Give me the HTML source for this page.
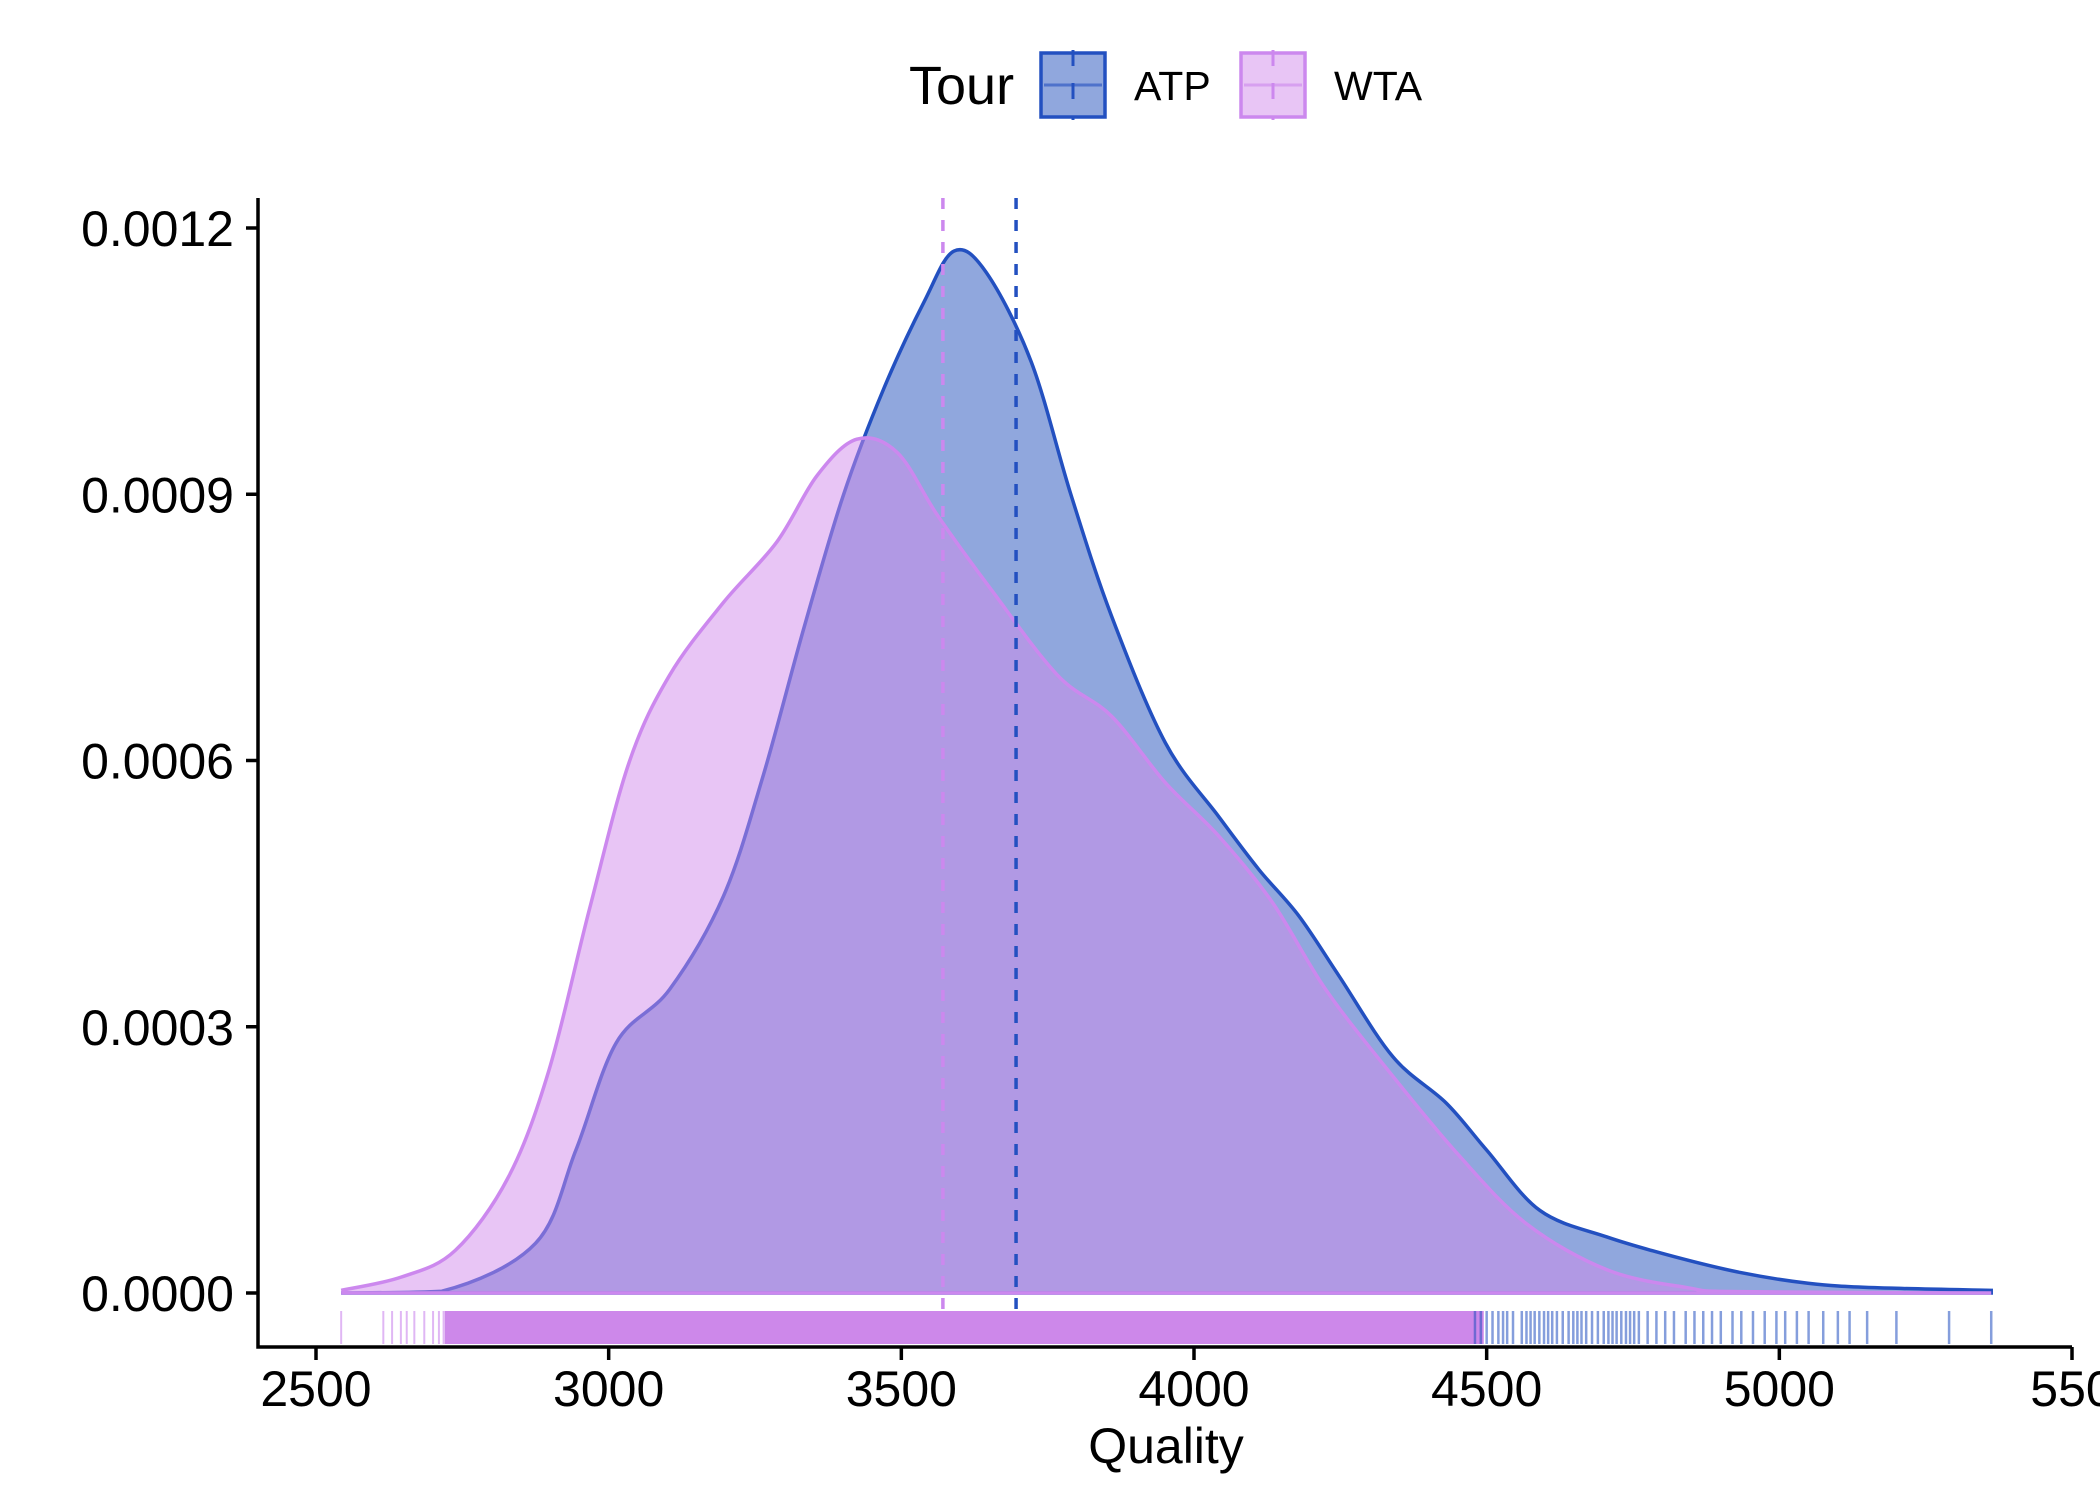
<!DOCTYPE html>
<html><head><meta charset="utf-8"><style>
html,body{margin:0;padding:0;background:#fff;}
svg{display:block;font-family:"Liberation Sans",Arial,sans-serif;}
</style></head><body>
<svg id="chart" width="2100" height="1500" viewBox="0 0 2100 1500"></svg>
<script>
const xTicks=[2500,3000,3500,4000,4500,5000,5500];
const xTickLabels=["2500","3000","3500","4000","4500","5000","550"];
const yTicks=[0,0.0003,0.0006,0.0009,0.0012];
const yTickLabels=["0.0000","0.0003","0.0006","0.0009","0.0012"];
const atpX=[2543,2715,2875,2944,3013,3104,3196,3264,3333,3401,3470,3539,3590,3645,3722,3790,3859,3951,4042,4111,4179,4248,4340,4431,4500,4591,4706,4820,4934,5049,5163,5362];
const atpY=[0,0.000002,0.000056,0.000161,0.000282,0.000342,0.000447,0.000583,0.000748,0.000899,0.001019,0.001117,0.001174,0.001150,0.001049,0.000899,0.000763,0.00062,0.000537,0.000477,0.000425,0.000357,0.000266,0.000214,0.000161,0.000093,0.000063,0.000041,0.000023,0.000011,0.000006,0.000003];
const wtaX=[2543,2646,2738,2829,2898,2967,3035,3104,3196,3287,3356,3424,3493,3562,3653,3767,3859,3951,4042,4134,4225,4340,4454,4568,4706,4843,4934,5362];
const wtaY=[0.000003,0.000018,0.000048,0.000131,0.000251,0.000432,0.000598,0.000696,0.000778,0.000846,0.000921,0.000962,0.000947,0.000876,0.000793,0.000696,0.00065,0.000575,0.000515,0.00044,0.000342,0.000244,0.000154,0.000078,0.000026,0.000006,0.0000015,0];
const atpMean=3696, wtaMean=3571;
const wtaRug=[2543,2615,2630,2645,2655,2668,2685,2700,2710,2718];
const wtaRugBand=[2720,4495];
const atpRug=[4480,4490,4500,4510,4520,4528,4535,4545,4560,4568,4575,4582,4590,4598,4605,4612,4620,4630,4640,4648,4655,4662,4670,4680,4690,4700,4708,4715,4722,4730,4738,4745,4752,4760,4775,4790,4805,4820,4840,4855,4870,4885,4900,4920,4935,4955,4975,4995,5010,5030,5050,5075,5100,5120,5150,5200,5290,5362];

const svg=document.getElementById('chart');
const NS='http://www.w3.org/2000/svg';
const X0=316,PX=(2072-316)/3000,Y0=1293,PY=(1293-228)/0.0012;
const sx=v=>X0+(v-2500)*PX, sy=v=>Y0-v*PY;
function mk(t,a,p){const e=document.createElementNS(NS,t);for(const k in a)e.setAttribute(k,a[k]);(p||svg).appendChild(e);return e;}
function curve(xs,ys){
  const p=xs.map((x,i)=>[sx(x),sy(ys[i])]);
  let d='M'+p[0][0]+','+p[0][1];
  for(let i=0;i<p.length-1;i++){
    const p0=p[Math.max(0,i-1)],p1=p[i],p2=p[i+1],p3=p[Math.min(p.length-1,i+2)];
    const c1=[p1[0]+(p2[0]-p0[0])/6,Math.min(Y0,p1[1]+(p2[1]-p0[1])/6)];
    const c2=[p2[0]-(p3[0]-p1[0])/6,Math.min(Y0,p2[1]-(p3[1]-p1[1])/6)];
    d+=' C'+c1[0]+','+c1[1]+' '+c2[0]+','+c2[1]+' '+p2[0]+','+p2[1];
  }
  return d;
}
function density(xs,ys,fill,stroke,name){
  const c=curve(xs,ys);
  const a=mk('path',{d:c+' L'+sx(xs[xs.length-1])+','+Y0+' L'+sx(xs[0])+','+Y0+' Z',fill:fill,stroke:'none'});
  
  
  const l=mk('path',{d:c+' L'+sx(xs[xs.length-1])+','+Y0+' L'+sx(xs[0])+','+Y0,fill:'none',stroke:stroke,'stroke-width':3.5});
  
  
}
density(atpX,atpY,'rgba(34,80,187,0.5)','#2350c0','atp');
density(wtaX,wtaY,'rgba(209,139,236,0.5)','#cc88ee','wta');
[[wtaMean,'#cc88ee','wta'],[atpMean,'#2350c0','atp']].forEach(m=>{
  const l=mk('line',{x1:sx(m[0]),x2:sx(m[0]),y1:198,y2:1311,stroke:m[1],'stroke-width':3.5,'stroke-dasharray':'11,11'});
  
  
});
const band=mk('rect',{x:sx(wtaRugBand[0]),y:1311,width:sx(wtaRugBand[1])-sx(wtaRugBand[0]),height:33,fill:'#cd88ea'});


wtaRug.forEach(v=>{const l=mk('line',{x1:sx(v),x2:sx(v),y1:1311,y2:1344,stroke:'#cc88ee','stroke-width':2,opacity:0.6});

});
atpRug.forEach(v=>{const l=mk('line',{x1:sx(v),x2:sx(v),y1:1311,y2:1344,stroke:'#2350c0','stroke-width':2.5,opacity:0.55});

});
const ax=mk('path',{d:'M258,198 L258,1347 L2072,1347',fill:'none',stroke:'#000','stroke-width':3.5});


xTicks.forEach((v,i)=>{
  const t=mk('line',{x1:sx(v),x2:sx(v),y1:1347,y2:1360,stroke:'#000','stroke-width':3.5});
  
  
  const tx=mk('text',{x:sx(v),y:1406,'font-size':50,'text-anchor':'middle',fill:'#000'});
  tx.textContent=xTickLabels[i];
  
  
});
yTicks.forEach((v,i)=>{
  const t=mk('line',{x1:246,x2:258,y1:sy(v),y2:sy(v),stroke:'#000','stroke-width':3.5});
  
  
  const tx=mk('text',{x:234,y:sy(v)+18,'font-size':50,'text-anchor':'end',fill:'#000'});
  tx.textContent=yTickLabels[i];
  
  
});
const xt=mk('text',{x:1166,y:1463,'font-size':50,'text-anchor':'middle',fill:'#000'});
xt.textContent='Quality';


const lt=mk('text',{x:909,y:104,'font-size':54,fill:'#000'});
lt.textContent='Tour';


[[1041,'rgba(34,80,187,0.5)','#2350c0','ATP','legend-entry-atp'],[1241,'rgba(209,139,236,0.5)','#cc88ee','WTA','legend-entry-wta']].forEach(e=>{
  const g=mk('g',{});
  
  
  mk('rect',{x:e[0],y:53,width:64,height:64,fill:e[1],stroke:e[2],'stroke-width':3.5},g);
  mk('line',{x1:e[0]+3,x2:e[0]+61,y1:85,y2:85,stroke:e[2],'stroke-width':3,opacity:0.6},g);
  mk('line',{x1:e[0]+32,x2:e[0]+32,y1:50,y2:120,stroke:e[2],'stroke-width':3,'stroke-dasharray':'16,17'},g);
  const t=mk('text',{x:e[0]+93,y:100,'font-size':41,fill:'#000'},g);
  t.textContent=e[3];
});
</script>
</body></html>
